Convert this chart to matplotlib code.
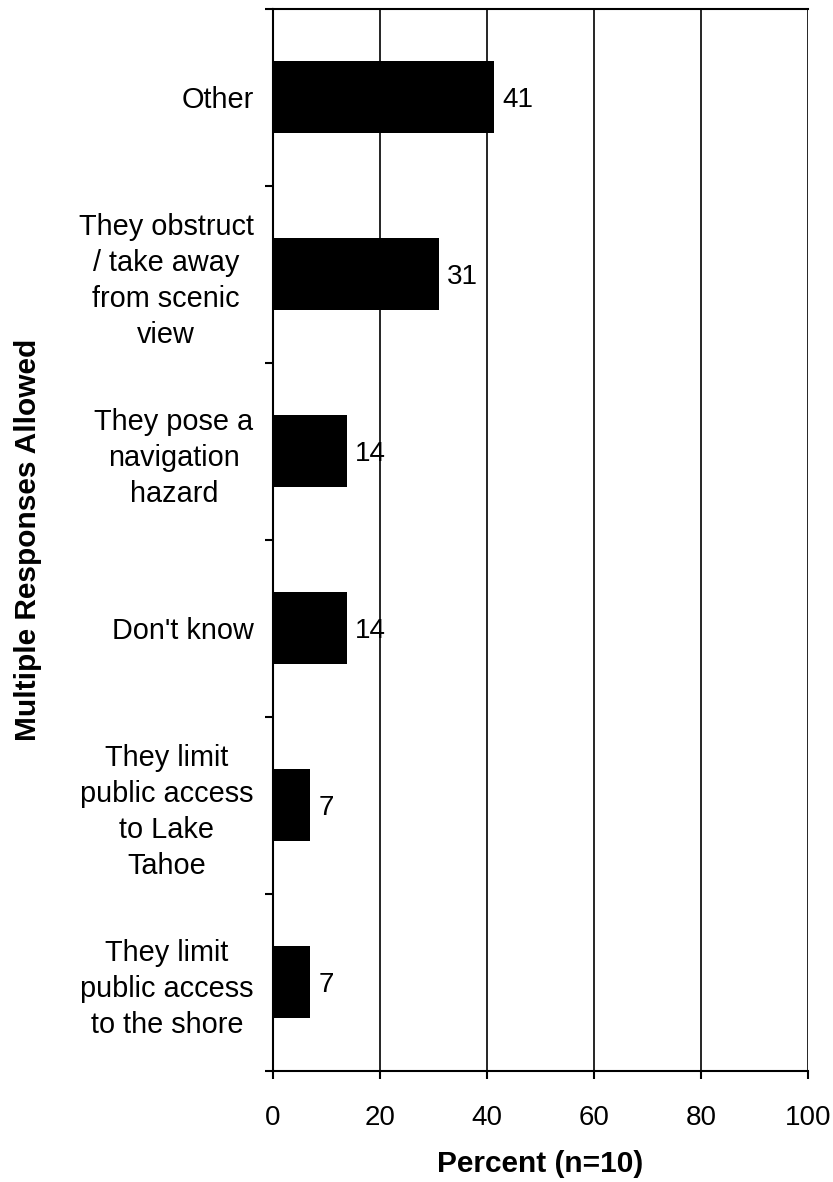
import matplotlib
matplotlib.use("Agg")
import matplotlib.pyplot as plt
import numpy as np

categories = [
    "Other",
    "They obstruct\n/ take away\nfrom scenic\nview",
    "They pose a\nnavigation\nhazard",
    "Don't know",
    "They limit\npublic access\nto Lake\nTahoe",
    "They limit\npublic access\nto the shore",
]
values = [41.4, 31.0, 13.8, 13.8, 6.9, 6.9]
value_labels = ["41", "31", "14", "14", "7", "7"]
xticks = [0, 20, 40, 60, 80, 100]
xlabel = "Percent (n=10)"
ylabel = "Multiple Responses Allowed"

plt.rcParams['font.family'] = ['Liberation Sans', 'DejaVu Sans']

W, H = 833, 1182
fig = plt.figure(figsize=(W / 100, H / 100), dpi=100)
left, right, top, bottom = 273, 808, 8.5, 1070.7
ax = fig.add_axes([left / W, 1 - bottom / H, (right - left) / W, (bottom - top) / H])

n = len(categories)
pos = np.arange(n) + 0.5
ax.barh(pos, values, height=0.405, color='black', zorder=3)
for p, v, lab in zip(pos, values, value_labels):
    ax.annotate(lab, (v, p), xytext=(6, 0), textcoords='offset points',
                ha='left', va='center_baseline', fontsize=20, zorder=4)

ax.set_xlim(0, 100)
ax.set_ylim(n, 0)
ax.set_xticks(xticks)
ax.set_xticklabels([str(t) for t in xticks], fontsize=20)
ax.tick_params(axis='x', direction='out', length=6, width=1.5, pad=18.5)

ax.set_yticks(pos)
ax.set_yticklabels(categories, fontsize=20.8, ha='right', multialignment='center')
for lab in ax.get_yticklabels():
    lab.set_linespacing(1.36)
ax.tick_params(axis='y', which='major', length=0, pad=14)
ax.set_yticks(np.arange(n + 1), minor=True)
ax.tick_params(axis='y', which='minor', direction='out', length=6, width=1.5)

for xv in xticks[1:]:
    ax.axvline(xv, color='black', lw=1.2, zorder=2)

for s in ['left', 'bottom', 'top']:
    ax.spines[s].set_linewidth(1.5)
    ax.spines[s].set_color('black')
ax.spines['right'].set_visible(False)

ax.set_xlabel(xlabel, fontsize=21.5, fontweight='bold', labelpad=14)
fig.text(28 / W, 1 - 539.6 / H, ylabel, rotation=90, ha='center', va='center',
         fontsize=21.5, fontweight='bold')

fig.savefig("out.png", dpi=100)
